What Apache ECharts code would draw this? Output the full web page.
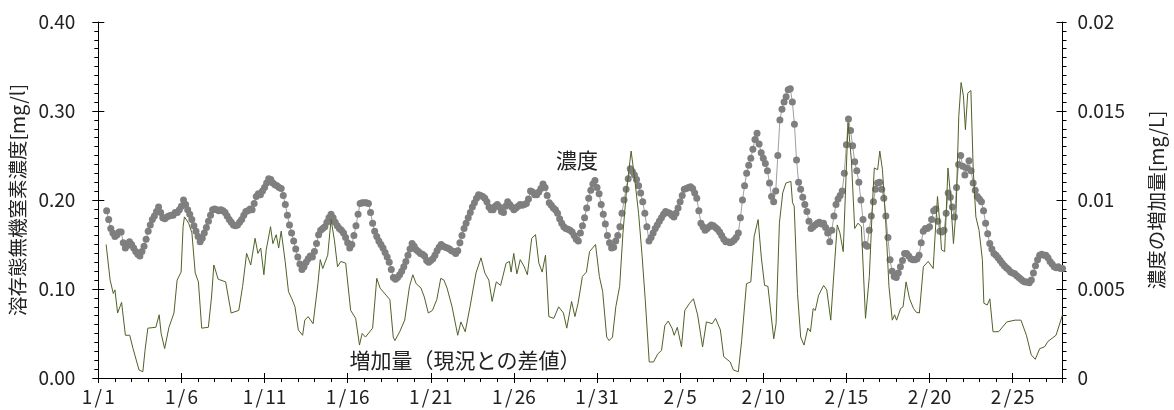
<!DOCTYPE html>
<html>
<head>
<meta charset="utf-8">
<script src="https://cdn.jsdelivr.net/npm/echarts@6/dist/echarts.min.js"></script>
<style>
html,body{margin:0;padding:0;background:#ffffff;}
#chart{width:1174px;height:410px;}
</style>
</head>
<body>
<div id="chart"></div>
<script>
// ---- tick labels ----
const dateTickLabels = ['1/1','1/6','1/11','1/16','1/21','1/26','1/31','2/5','2/10','2/15','2/20','2/25'];
const leftTickLabels = ['0.00','0.10','0.20','0.30','0.40'];
const rightTickLabels = ['0','0.005','0.01','0.015','0.02'];

// ---- 濃度 (mg/l), 3-hourly samples, days counted from 1/1 00:00 ----
const concStartDay = 0.5;
const concStepDay = 0.125;
const concValues = [
0.188,0.178,0.168,0.163,
0.159,0.161,0.164,0.164,0.152,0.146,0.149,0.153,
0.150,0.146,0.142,0.139,0.137,0.142,0.148,0.156,
0.165,0.172,0.178,0.182,0.187,0.192,0.186,0.180,
0.179,0.181,0.182,0.183,0.183,0.186,0.186,0.189,
0.193,0.200,0.195,0.189,0.184,0.178,0.171,0.165,
0.159,0.153,0.157,0.163,0.169,0.176,0.183,0.189,
0.190,0.189,0.188,0.189,0.188,0.186,0.182,0.178,
0.175,0.172,0.171,0.172,0.175,0.178,0.183,0.187,
0.188,0.190,0.189,0.196,0.204,0.207,0.206,0.210,
0.214,0.219,0.224,0.223,0.219,0.217,0.216,0.214,
0.213,0.205,0.195,0.183,0.172,0.163,0.154,0.145,
0.136,0.128,0.122,0.125,0.130,0.134,0.137,0.136,
0.142,0.151,0.161,0.166,0.168,0.170,0.175,0.180,
0.184,0.180,0.175,0.171,0.168,0.166,0.163,0.158,
0.152,0.146,0.150,0.160,0.171,0.184,0.196,0.197,
0.197,0.197,0.196,0.186,0.174,0.165,0.159,0.154,
0.150,0.146,0.141,0.136,0.130,0.122,0.113,0.111,
0.113,0.116,0.120,0.125,0.131,0.138,0.145,0.151,
0.148,0.144,0.142,0.140,0.139,0.137,0.132,0.130,
0.132,0.134,0.138,0.143,0.147,0.150,0.148,0.147,
0.146,0.145,0.143,0.142,0.140,0.143,0.152,0.160,
0.168,0.174,0.180,0.186,0.192,0.197,0.202,0.206,
0.205,0.204,0.202,0.198,0.192,0.189,0.189,0.193,
0.195,0.192,0.187,0.186,0.193,0.198,0.195,0.192,
0.189,0.191,0.193,0.195,0.194,0.195,0.196,0.201,
0.210,0.209,0.206,0.206,0.209,0.213,0.218,0.214,
0.205,0.197,0.194,0.191,0.189,0.185,0.179,0.174,
0.170,0.168,0.167,0.166,0.164,0.160,0.156,0.154,
0.163,0.171,0.180,0.191,0.202,0.211,0.218,0.222,
0.214,0.207,0.195,0.184,0.173,0.160,0.152,0.146,
0.147,0.154,0.160,0.170,0.185,0.200,0.212,0.224,
0.235,0.232,0.228,0.223,0.216,0.208,0.198,0.185,
0.170,0.154,0.158,0.163,0.168,0.172,0.176,0.180,
0.184,0.187,0.186,0.185,0.183,0.181,0.185,0.191,
0.198,0.205,0.212,0.213,0.214,0.215,0.213,0.208,
0.202,0.188,0.174,0.170,0.166,0.168,0.170,0.172,
0.171,0.169,0.167,0.164,0.160,0.156,0.153,0.153,
0.152,0.153,0.155,0.158,0.163,0.180,0.200,0.216,
0.230,0.239,0.247,0.257,0.268,0.275,0.263,0.253,
0.247,0.241,0.233,0.219,0.204,0.198,0.210,0.250,
0.290,0.302,0.310,0.316,0.324,0.325,0.310,0.285,
0.245,0.220,0.212,0.203,0.195,0.187,0.176,0.168,
0.170,0.172,0.174,0.175,0.173,0.174,0.169,0.163,
0.153,0.166,0.182,0.195,0.201,0.205,0.210,0.230,
0.262,0.291,0.278,0.261,0.243,0.233,0.220,0.200,
0.178,0.150,0.148,0.166,0.182,0.198,0.212,0.219,
0.220,0.212,0.202,0.182,0.158,0.133,0.120,0.114,
0.113,0.118,0.125,0.132,0.140,0.140,0.137,0.134,
0.133,0.133,0.134,0.138,0.152,0.165,0.168,0.168,
0.170,0.178,0.188,0.190,0.176,0.165,0.164,0.166,
0.185,0.208,0.203,0.192,0.181,0.214,0.240,0.250,
0.238,0.228,0.236,0.244,0.233,0.219,0.211,0.204,
0.201,0.198,0.188,0.174,0.162,0.151,0.145,0.140,
0.138,0.135,0.132,0.129,0.126,0.124,0.122,0.119,
0.118,0.117,0.115,0.113,0.111,0.109,0.108,0.108,
0.107,0.110,0.118,0.126,0.133,0.138,0.139,0.138,
0.138,0.135,0.131,0.128,0.125,0.124,0.125,0.123,
0.123
];

// ---- 増加量（現況との差値） (mg/L), read at its vertices ----
const incDays = [
0.47,0.71,0.9,1.0,1.16,1.4,1.63,1.89,2.09,2.19,2.45,2.68,2.81,2.98,3.46,3.66,3.78,3.99,4.25,4.55,
4.74,4.98,5.1,5.18,5.43,5.63,5.83,6.02,6.22,6.62,6.81,6.95,7.21,7.66,7.99,8.45,8.68,8.92,9.17,9.43,
9.6,9.77,9.96,10.1,10.36,10.5,10.7,10.85,11.0,11.24,11.44,11.64,11.83,12.03,12.29,12.42,12.62,12.92,13.21,13.35,
13.5,13.8,14.0,14.2,14.39,14.59,14.88,15.18,15.48,15.71,15.87,16.07,16.5,16.75,16.95,17.54,17.74,17.84,18.13,18.43,
18.72,18.92,19.12,19.41,19.61,19.85,20.1,20.36,20.6,20.79,20.98,21.28,21.62,21.81,22.07,22.36,22.72,23.02,23.25,23.49,
23.69,23.94,24.2,24.53,24.73,24.83,24.99,25.18,25.38,25.62,25.81,26.07,26.3,26.5,26.7,26.9,27.1,27.4,27.69,27.98,
28.18,28.47,28.67,28.86,29.12,29.36,29.55,29.91,30.14,30.34,30.58,30.73,30.93,31.13,31.36,31.56,31.76,32.05,32.27,32.5,
32.7,32.9,33.14,33.4,33.65,33.88,34.08,34.28,34.51,34.64,34.83,35.08,35.28,35.57,35.8,36.05,36.35,36.58,36.93,37.13,
37.42,37.62,38.01,38.2,38.5,38.7,38.99,39.25,39.45,39.69,39.88,40.08,40.28,40.47,40.63,40.77,40.97,41.17,41.36,41.66,
41.76,41.86,42.06,42.25,42.45,42.68,42.84,43.0,43.13,43.33,43.63,43.82,44.06,44.22,44.45,44.61,44.81,45.1,45.3,45.5,
45.7,45.9,46.15,46.38,46.58,46.68,46.88,47.01,47.17,47.36,47.56,47.76,47.9,48.02,48.26,48.41,48.59,48.8,49.04,49.2,
49.39,49.63,49.92,50.22,50.38,50.48,50.62,50.72,50.91,51.11,51.25,51.44,51.6,51.76,51.9,52.04,52.16,52.3,52.49,52.63,
52.79,52.98,53.18,53.27,53.47,53.63,53.82,54.16,54.65,55.15,55.5,55.83,56.12,56.36,56.63,56.92,57.12,57.61,57.9,58.0
];
const incValues = [
0.0075,0.0055,0.00475,0.00495,0.00365,0.00425,0.0024,0.0024,0.00165,0.00155,0.00045,0.00035,0.00155,0.0028,0.00285,0.00355,0.0025,0.00165,0.00285,0.00365,
0.0055,0.00595,0.0085,0.00905,0.0087,0.00815,0.0059,0.0054,0.0028,0.00285,0.00455,0.00635,0.00555,0.0054,0.00365,0.0038,0.00515,0.007,0.00635,0.00785,
0.007,0.0073,0.0058,0.0072,0.0085,0.00755,0.00805,0.0073,0.00825,0.00655,0.00485,0.00445,0.004,0.0027,0.0024,0.00325,0.00345,0.00305,0.0053,0.00665,
0.00615,0.0069,0.0089,0.00775,0.00625,0.00655,0.00645,0.0038,0.00335,0.00185,0.0025,0.0023,0.0028,0.0056,0.00505,0.0044,0.0023,0.0021,0.0026,0.00325,
0.00515,0.0058,0.0053,0.00505,0.00455,0.00365,0.0038,0.0044,0.0056,0.0055,0.00505,0.004,0.0024,0.00315,0.0026,0.004,0.0059,0.00675,0.0059,0.0055,
0.0043,0.0054,0.0052,0.00645,0.00655,0.00595,0.007,0.00585,0.00665,0.00625,0.0058,0.00785,0.00805,0.00645,0.00595,0.0069,0.00345,0.00335,0.004,0.00365,
0.0028,0.0043,0.00345,0.0042,0.0057,0.00595,0.0071,0.0075,0.0057,0.00485,0.0023,0.0021,0.0023,0.004,0.00515,0.00815,0.0104,0.01275,0.01115,0.00925,
0.007,0.0044,0.0009,0.0009,0.00135,0.00155,0.00295,0.0032,0.0028,0.0024,0.00285,0.00175,0.0038,0.0042,0.00445,0.00355,0.00175,0.00315,0.00305,0.00335,
0.0027,0.0012,0.0009,0.00045,0.00035,0.0021,0.0053,0.0054,0.00795,0.0089,0.0068,0.0052,0.00515,0.00355,0.0022,0.00305,0.0087,0.0104,0.01095,0.01105,
0.00985,0.00965,0.00475,0.0023,0.00185,0.0028,0.0026,0.0039,0.0038,0.00465,0.0052,0.00495,0.00325,0.0055,0.0086,0.00815,0.0071,0.01435,0.01225,0.0084,
0.0087,0.0085,0.00335,0.0057,0.01,0.0118,0.0117,0.01275,0.0117,0.0089,0.00515,0.00325,0.00355,0.00325,0.0039,0.004,0.0054,0.00445,0.0039,0.0037,
0.00365,0.00625,0.00655,0.00615,0.0087,0.0102,0.0087,0.0072,0.0071,0.0118,0.0104,0.00755,0.00945,0.0147,0.0166,0.01585,0.01395,0.016,0.01615,0.0117,
0.00905,0.0083,0.00665,0.0042,0.0041,0.00445,0.0026,0.0026,0.00315,0.00325,0.00325,0.0024,0.0013,0.00105,0.00165,0.00175,0.00205,0.0024,0.00325,0.00355
];

const FONT = '"Noto Sans CJK JP", "Noto Sans", sans-serif';
const TXT = '#222222';

const concData = concValues.map((v, i) => [concStartDay + i * concStepDay, v]);
const incData = incDays.map((d, i) => [d, incValues[i]]);

const chart = echarts.init(document.getElementById('chart'), null, {renderer: 'canvas'});

const xBase = {type: 'value', min: 0, max: 58, position: 'bottom', splitLine: {show: false}};
const yLeftBase = {type: 'value', min: 0, max: 0.4, interval: 0.1, position: 'left', splitLine: {show: false}};
const yRightBase = {type: 'value', min: 0, max: 0.02, interval: 0.005, position: 'right', splitLine: {show: false}};

function dateLabel(v) {
  const k = Math.round(v);
  if (k % 5 !== 0 || k > 55) return '';
  const parts = dateTickLabels[k / 5].split('/');
  return '{d|' + parts[0] + '}{s|/}{d|' + parts[1] + '}';
}

chart.setOption({
  animation: false,
  backgroundColor: '#ffffff',
  grid: {left: 98, right: 92, top: 22, bottom: 32, containLabel: false},
  xAxis: [
    Object.assign({}, xBase, {
      interval: 1,
      axisLine: {show: true, onZero: false, lineStyle: {color: '#000', width: 1}},
      axisTick: {show: true, inside: false, length: 4, lineStyle: {color: '#000', width: 1}},
      axisLabel: {
        show: true, margin: 9, fontSize: 19, fontFamily: FONT, color: TXT,
        showMaxLabel: false, alignMinLabel: 'center', alignMaxLabel: 'center',
        formatter: dateLabel,
        rich: {
          d: {fontSize: 19, fontFamily: FONT, color: TXT},
          s: {fontSize: 19, fontFamily: FONT, color: TXT, width: 12, align: 'center'}
        }
      }
    }),
    Object.assign({}, xBase, {
      interval: 5,
      axisLine: {show: false, onZero: false},
      axisTick: {show: true, inside: false, length: 5, lineStyle: {color: '#000', width: 1}},
      axisLabel: {show: false}
    }),
    Object.assign({}, xBase, {
      interval: 5,
      axisLine: {show: false, onZero: false},
      axisTick: {show: true, inside: true, length: 5, lineStyle: {color: '#000', width: 1}},
      axisLabel: {show: false}
    })
  ],
  yAxis: [
    Object.assign({}, yLeftBase, {
      axisLine: {show: true, onZero: false, lineStyle: {color: '#000', width: 1}},
      axisTick: {show: true, inside: false, length: 6, lineStyle: {color: '#000', width: 1}},
      minorTick: {show: true, splitNumber: 10, length: 4, lineStyle: {color: '#000', width: 1}},
      axisLabel: {margin: 23, fontSize: 19, fontFamily: FONT, color: TXT,
        formatter: v => leftTickLabels[Math.round(v * 10)]},
      name: '溶存態無機窒素濃度[mg/l]', nameLocation: 'middle', nameGap: 63, nameRotate: 90,
      nameTextStyle: {fontSize: 19.5, fontFamily: FONT, color: TXT}
    }),
    Object.assign({}, yLeftBase, {
      axisLine: {show: false, onZero: false},
      axisTick: {show: true, inside: true, length: 6, lineStyle: {color: '#000', width: 1}},
      axisLabel: {show: false}
    }),
    Object.assign({}, yRightBase, {
      axisLine: {show: true, onZero: false, lineStyle: {color: '#000', width: 1}},
      axisTick: {show: true, inside: false, length: 4, lineStyle: {color: '#000', width: 1}},
      minorTick: {show: true, splitNumber: 10, length: 4, lineStyle: {color: '#000', width: 1}},
      axisLabel: {margin: 15, fontSize: 19, fontFamily: FONT, color: TXT,
        formatter: v => rightTickLabels[Math.round(v / 0.005)]},
      name: '濃度の増加量[mg/L]', nameLocation: 'middle', nameGap: 84, nameRotate: 90,
      nameTextStyle: {fontSize: 19.5, fontFamily: FONT, color: TXT}
    }),
    Object.assign({}, yRightBase, {
      axisLine: {show: false, onZero: false},
      axisTick: {show: true, inside: true, length: 6, lineStyle: {color: '#000', width: 1}},
      axisLabel: {show: false}
    })
  ],
  series: [
    {
      name: '濃度', type: 'line', xAxisIndex: 0, yAxisIndex: 0,
      data: concData,
      showSymbol: false, symbol: 'none',
      lineStyle: {color: '#a0a0a0', width: 1},
      z: 2
    },
    {
      name: '濃度点', type: 'scatter', xAxisIndex: 0, yAxisIndex: 0,
      data: concData,
      symbol: 'circle', symbolSize: 7, large: false,
      itemStyle: {color: '#7f7f7f', opacity: 1},
      z: 2
    },
    {
      name: '増加量', type: 'line', xAxisIndex: 0, yAxisIndex: 2,
      data: incData,
      showSymbol: false, symbol: 'none',
      lineStyle: {color: '#4f6228', width: 1},
      z: 3
    }
  ],
  graphic: [
    {type: 'text', x: 577, y: 160, z: 10,
      style: {text: '濃度', fontSize: 21, fontFamily: FONT, fill: TXT, align: 'center', verticalAlign: 'middle'}},
    {type: 'text', x: 465, y: 360, z: 10,
      style: {
        text: '{a|増加量}{l|（}{a|現況との差値}{r|）}',
        align: 'center', verticalAlign: 'middle',
        rich: {
          a: {fontSize: 21, fontFamily: FONT, fill: TXT, color: TXT},
          l: {fontSize: 21, fontFamily: FONT, fill: TXT, color: TXT, width: 21, align: 'right'},
          r: {fontSize: 21, fontFamily: FONT, fill: TXT, color: TXT, width: 21, align: 'left'}
        }
      }}
  ]
});
</script>
</body>
</html>
